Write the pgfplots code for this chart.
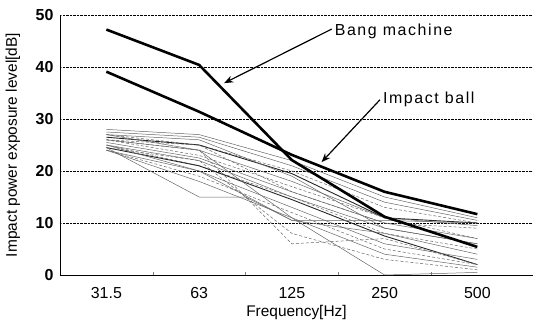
\documentclass[border=0pt]{standalone}
\usepackage{pgfplots}
\pgfplotsset{compat=1.18}
\usetikzlibrary{arrows.meta}
\usepackage{fontspec}
\setmainfont{Liberation Sans}
\begin{document}
\begin{tikzpicture}
\begin{axis}[
  scale only axis, width=473bp, height=260bp,
  xmin=-0.5, xmax=4.6, ymin=0, ymax=50,
  axis x line=bottom, axis y line=left,
  axis line style={-, line width=0.8pt},
  xtick={0,1,2,3,4}, xticklabels={31.5,63,125,250,500},
  major x tick style={draw=none},
  minor xtick={0.5,1.5,2.5,3.5},
  minor tick length=3bp, tick align=inside,
  ytick={0,10,20,30,40,50},
  major tick length=2bp,
  ymajorgrids, major grid style={densely dotted, black, line width=0.6pt},
  xticklabel style={font=\fontsize{16}{18}\selectfont, yshift=-9bp},
  yticklabel style={font=\fontsize{16}{18}\selectfont\bfseries, xshift=-3bp},
  /pgf/number format/assume math mode=true,
  xlabel={Frequency[Hz]}, ylabel={Impact power exposure level[dB]},
  label style={font=\fontsize{15.5}{18}\selectfont},
  xlabel style={at={(axis description cs:0.5,0)}, anchor=center, yshift=-38bp},
  ylabel style={at={(axis description cs:0,0.5)}, anchor=center, yshift=47bp},
  clip=false,
]
% thin lines (individual sources)
\pgfplotsset{thin line/.style={black!60, line width=0.5pt}}
\addplot[thin line] coordinates {(0,28) (1,27) (2,22) (3,15) (4,11)};
\addplot[thin line] coordinates {(0,27.5) (1,26.5) (2,21) (3,14) (4,10.5)};
\addplot[thin line, densely dashed] coordinates {(0,27) (1,25) (2,20) (3,13) (4,10)};
\addplot[black!85, line width=0.9pt] coordinates {(0,26.5) (1,25) (2,19.5) (3,11) (4,10)};
\addplot[thin line] coordinates {(0,26) (1,24) (2,18) (3,11) (4,9.5)};
\addplot[thin line, densely dashed] coordinates {(0,26) (1,23) (2,17) (3,11) (4,7)};
\addplot[thin line] coordinates {(0,25.5) (1,22.5) (2,16) (3,10) (4,7)};
\addplot[thin line] coordinates {(0,25) (1,22) (2,15) (3,9) (4,6)};
\addplot[thin line, densely dashed] coordinates {(0,25) (1,21) (2,15) (3,8) (4,5)};
\addplot[black!85, line width=0.9pt] coordinates {(0,24.5) (1,21) (2,14.5) (3,7.5) (4,2)};
\addplot[thin line] coordinates {(0,24) (1,20) (2,13) (3,6) (4,3)};
\addplot[thin line, densely dashed] coordinates {(0,24) (1,19) (2,12) (3,5) (4,2)};
\addplot[thin line] coordinates {(0,24) (1,18) (2,11) (3,4) (4,1.5)};
\addplot[thin line] coordinates {(0,24.5) (1,15) (1.5,15) (2,10.5) (3,10.5) (4,10)};
\addplot[thin line] coordinates {(0,27) (1,24) (2,11) (3,0) (4,0.5)};
\addplot[thin line, densely dashed] coordinates {(0,26) (1,24) (2,6) (3,7) (4,2)};
\addplot[thin line] coordinates {(0,25) (1,20) (2,10.5) (3,8) (4,4)};
\addplot[thin line, densely dashed] coordinates {(0,26) (1,25) (2,16) (3,10) (4,9)};
\addplot[thin line] coordinates {(0,27) (1,26) (2,19) (3,9) (4,6)};
\addplot[thin line, densely dashed] coordinates {(0,24.5) (1,22) (2,8) (3,3) (4,1)};
% Bang machine
\addplot[black, line width=2.6pt] coordinates {(0,47.2) (1,40.4) (2,22.1) (3,11.2) (4,5.4)};
% Impact ball
\addplot[black, line width=2.6pt] coordinates {(0,39.1) (1,31.4) (2,23.1) (3,16) (4,11.7)};
% annotations
\draw[-{Stealth[length=9bp,width=7bp]}, line width=1.2pt] (axis cs:2.43,47.3) -- (axis cs:1.27,36.9);
\node[anchor=west, inner sep=1pt, font=\fontsize{16}{18}\selectfont\addfontfeature{LetterSpace=10}] at (axis cs:2.45,46.9) {Bang machine};
\draw[-{Stealth[length=9bp,width=7bp]}, line width=1.2pt] (axis cs:2.95,33.7) -- (axis cs:2.32,21.7);
\node[anchor=west, inner sep=1pt, font=\fontsize{16}{18}\selectfont\addfontfeature{LetterSpace=10}] at (axis cs:2.97,33.7) {Impact ball};
\coordinate (ll) at (rel axis cs:0,0);
\coordinate (ur) at (rel axis cs:1,1);
\end{axis}
\pgfresetboundingbox
\path ([xshift=-60bp,yshift=-51bp]ll) rectangle ([yshift=15bp]ur);
\end{tikzpicture}
\end{document}
